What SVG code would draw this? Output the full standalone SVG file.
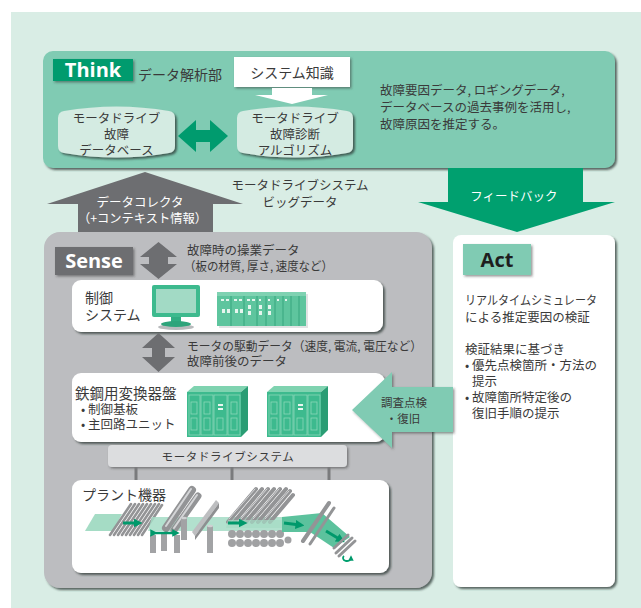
<svg xmlns="http://www.w3.org/2000/svg" width="641" height="608" viewBox="0 0 641 608">
  <defs>
    <style>
      text { font-family: "Noto Sans CJK JP", "Noto Sans", sans-serif; fill: #3a3a3a; }
      .t12 { font-size: 12.5px; }
      .t11 { font-size: 11.5px; }
      .t14 { font-size: 14px; }
      .mid { text-anchor: middle; }
      .wt { fill: #ffffff; }
      .tag { font-family: "Open Sans", "Noto Sans", sans-serif; font-weight: bold; font-size: 20px; }
      .rod { stroke: #939496; stroke-linecap: round; fill: none; }
      .rodhi { stroke: #d4d5d7; stroke-linecap: round; fill: none; }
      .cyl { fill: #a2a3a5; }
      .cyltop { fill: #cfd0d2; }
    </style>
    <filter id="sh" x="-10%" y="-10%" width="130%" height="130%">
      <feDropShadow dx="2" dy="2" stdDeviation="1.2" flood-color="#2d3a35" flood-opacity="0.75"/>
    </filter>
    <filter id="shs" x="-10%" y="-10%" width="130%" height="130%">
      <feDropShadow dx="1.5" dy="1.5" stdDeviation="1" flood-color="#333" flood-opacity="0.5"/>
    </filter>
    <marker id="gh" viewBox="0 0 10 10" refX="5" refY="5" markerWidth="3" markerHeight="3" orient="auto">
      <path d="M0,0 L10,5 L0,10 Z" fill="#00996b"/>
    </marker>
  </defs>

  <!-- backdrop -->
  <rect x="0" y="0" width="641" height="608" fill="#ffffff"/>
  <rect x="11" y="12" width="630" height="596" fill="#d9ede5"/>

  <!-- Think: analysis panel -->
  <g id="think">
    <rect x="43" y="51" width="572" height="117" rx="10" fill="#80cbb3" filter="url(#sh)"/>
    <rect x="53" y="59" width="80" height="22" fill="#009b6e" filter="url(#shs)"/>
    <text x="93" y="77" class="tag wt mid">Think</text>
    <text x="138" y="80" class="t14">データ解析部</text>
    <text x="380" y="95" class="t12">故障要因データ, ロギングデータ,<tspan x="380" dy="17">データベースの過去事例を活用し,</tspan><tspan x="380" dy="17">故障原因を推定する。</tspan></text>
  </g>

  <g id="system-knowledge">
    <rect x="234" y="57" width="116" height="30" fill="#ffffff" filter="url(#shs)"/>
    <text x="292" y="78" class="t14 mid">システム知識</text>
  </g>

  <g id="fault-db">
    <path d="M58,118 Q58,112 64,111 Q116.5,102 169,111 Q175,112 175,118 L175,146 Q175,152 169,153 Q116.5,162 64,153 Q58,152 58,146 Z" fill="#d4ebe2" filter="url(#sh)"/>
    <text x="116.5" y="123" class="t12 mid">モータドライブ<tspan x="116.5" dy="16">故障</tspan><tspan x="116.5" dy="16">データベース</tspan></text>
  </g>

  <g id="diag-algo">
    <path d="M237,118 Q237,112 243,111 Q295,102 347,111 Q353,112 353,118 L353,146 Q353,152 347,153 Q295,162 243,153 Q237,152 237,146 Z" fill="#d4ebe2" filter="url(#sh)"/>
    <text x="295" y="123" class="t12 mid">モータドライブ<tspan x="295" dy="16">故障診断</tspan><tspan x="295" dy="16">アルゴリズム</tspan></text>
  </g>

  <!-- Act panel -->
  <g id="act">
    <rect x="453" y="235" width="162" height="352" rx="8" fill="#ffffff" filter="url(#sh)"/>
    <rect x="463" y="244" width="68" height="31" fill="#80cbb3" filter="url(#shs)"/>
    <text x="497" y="267" class="tag mid" style="fill:#1e1e1e">Act</text>
    <text x="465" y="305" class="t12" textLength="132" lengthAdjust="spacingAndGlyphs">リアルタイムシミュレータ</text>
    <text x="465" y="322" class="t12">による推定要因の検証</text>
    <text x="465" y="354" class="t12">検証結果に基づき<tspan x="465" dy="16">•</tspan><tspan x="472">優先点検箇所・方法の</tspan><tspan x="472" dy="16">提示</tspan><tspan x="465" dy="16">•</tspan><tspan x="472">故障箇所特定後の</tspan><tspan x="472" dy="16">復旧手順の提示</tspan></text>
  </g>

  <!-- Sense panel -->
  <g id="sense">
    <rect x="44" y="232" width="388" height="356" rx="16" fill="#bcbdc0" filter="url(#sh)"/>
    <rect x="55" y="247" width="78" height="28" fill="#6d6e71" filter="url(#shs)"/>
    <text x="94" y="268" class="tag wt mid">Sense</text>
    <text x="187" y="255" class="t12">故障時の操業データ</text>
    <text x="184" y="271" class="t12" textLength="149" lengthAdjust="spacingAndGlyphs">（板の材質, 厚さ, 速度など）</text>
    <text x="187" y="351" class="t12" textLength="235" lengthAdjust="spacingAndGlyphs">モータの駆動データ（速度, 電流, 電圧など）</text>
    <text x="187" y="366" class="t12">故障前後のデータ</text>
  </g>

  <!-- control system -->
  <g id="control">
    <rect x="72" y="280" width="311" height="52" rx="9" fill="#ffffff" filter="url(#sh)"/>
    <text x="85" y="303" class="t14">制御<tspan x="85" dy="17">システム</tspan></text>
    <!-- monitor -->
    <ellipse cx="176" cy="327" rx="18" ry="3" fill="#b9bbbd"/>
    <rect x="152" y="285" width="48" height="32" rx="2" fill="#3dba8e"/>
    <rect x="156" y="289" width="40" height="24" fill="#a2dac5"/>
    <rect x="171" y="317" width="10" height="6" fill="#31ad82"/>
    <ellipse cx="176" cy="324" rx="15" ry="3" fill="#2ea47b"/>
    <!-- controller rack -->
    <rect x="219" y="294" width="89" height="34" fill="#cfd0d2" opacity="0.6"/>
    <rect x="217" y="292" width="89" height="34" fill="#5ec59e"/>
    <rect x="217" y="292" width="89" height="4" fill="#7fd2b2"/>
    <g stroke="#2f9e77" stroke-width="0.8">
      <line x1="231" y1="296" x2="231" y2="326"/>
      <line x1="244" y1="296" x2="244" y2="326"/>
      <line x1="257" y1="296" x2="257" y2="326"/>
      <line x1="266" y1="296" x2="266" y2="326"/>
      <line x1="275" y1="296" x2="275" y2="326"/>
      <line x1="283" y1="296" x2="283" y2="326"/>
      <line x1="291" y1="296" x2="291" y2="326"/>
      <line x1="299" y1="296" x2="299" y2="326"/>
    </g>
    <g fill="#e6f5ee">
      <rect x="221" y="299" width="3" height="2"/><rect x="226" y="299" width="3" height="2"/>
      <rect x="234" y="299" width="3" height="2"/><rect x="239" y="299" width="3" height="2"/>
      <rect x="247" y="299" width="3" height="2"/><rect x="252" y="299" width="3" height="2"/>
      <rect x="259" y="299" width="2" height="2"/><rect x="268" y="299" width="2" height="2"/>
      <rect x="277" y="299" width="2" height="2"/><rect x="285" y="299" width="2" height="2"/>
      <rect x="222" y="309" width="3" height="4"/><rect x="227" y="309" width="3" height="4"/>
      <rect x="235" y="309" width="3" height="4"/><rect x="240" y="309" width="3" height="4"/>
      <rect x="248" y="305" width="3" height="4"/><rect x="248" y="311" width="3" height="4"/>
      <rect x="259" y="305" width="3" height="4"/><rect x="268" y="305" width="3" height="4"/>
      <rect x="259" y="311" width="3" height="4"/><rect x="268" y="311" width="3" height="4"/>
    </g>
  </g>

  <!-- converter cabinets -->
  <g id="converter">
    <rect x="72" y="373" width="313" height="69" rx="9" fill="#ffffff" filter="url(#sh)"/>
    <text x="75" y="399" class="t14" style="font-size:14.5px">鉄鋼用変換器盤</text>
    <text x="81" y="414" class="t12">•<tspan x="88">制御基板</tspan><tspan x="81" dy="15">•</tspan><tspan x="88">主回路ユニット</tspan></text>
    <g id="cabinet-1">
      <polygon points="187,392 194,386 248,386 241,392" fill="#7fd3b0"/>
      <polygon points="241,392 248,386 248,430 241,437" fill="#2a9d74"/>
      <rect x="187" y="392" width="54" height="45" fill="#3dba8e"/>
      <g fill="none" stroke="#8ad8b8" stroke-width="0.8">
        <rect x="189" y="395" width="11" height="40"/><rect x="201" y="395" width="12" height="40"/>
        <rect x="214" y="395" width="13" height="40"/><rect x="228" y="395" width="12" height="40"/>
        <rect x="191" y="402" width="6" height="12"/><rect x="191" y="418" width="6" height="12"/>
        <rect x="204" y="402" width="6" height="12"/><rect x="204" y="418" width="6" height="12"/>
        <rect x="231" y="402" width="6" height="12"/><rect x="231" y="418" width="6" height="12"/>
        <rect x="217" y="418" width="6" height="12"/>
      </g>
      <rect x="218" y="404" width="5" height="2" fill="#e9f6f0"/><rect x="218" y="408" width="5" height="2" fill="#e9f6f0"/>
    </g>
    <g id="cabinet-2">
      <polygon points="267,392 274,386 328,386 321,392" fill="#7fd3b0"/>
      <polygon points="321,392 328,386 328,430 321,437" fill="#2a9d74"/>
      <rect x="267" y="392" width="54" height="45" fill="#3dba8e"/>
      <g fill="none" stroke="#8ad8b8" stroke-width="0.8">
        <rect x="269" y="395" width="11" height="40"/><rect x="281" y="395" width="12" height="40"/>
        <rect x="294" y="395" width="13" height="40"/><rect x="308" y="395" width="12" height="40"/>
        <rect x="271" y="402" width="6" height="12"/><rect x="271" y="418" width="6" height="12"/>
        <rect x="284" y="402" width="6" height="12"/><rect x="284" y="418" width="6" height="12"/>
        <rect x="311" y="402" width="6" height="12"/><rect x="311" y="418" width="6" height="12"/>
        <rect x="297" y="418" width="6" height="12"/>
      </g>
      <rect x="298" y="404" width="5" height="2" fill="#e9f6f0"/><rect x="298" y="408" width="5" height="2" fill="#e9f6f0"/>
    </g>
  </g>

  <!-- motor drive bus -->
  <g id="drive-bus">
    <rect x="108" y="445" width="239" height="22" rx="4" fill="#dcdddf" filter="url(#shs)"/>
    <text x="228" y="461" class="t11 mid" style="letter-spacing:0.6px">モータドライブシステム</text>
  </g>

  <!-- plant equipment -->
  <g id="plant">
    <rect x="72" y="480" width="317" height="93" rx="9" fill="#ffffff" filter="url(#sh)"/>
    <text x="82" y="500" class="t14">プラント機器</text>

    <!-- entry sheet -->
    <polygon points="95,514 122,514 113,531 85,531" fill="#a5dcc5"/>
    <!-- roller table 1 -->
    <g class="rod" stroke-width="2.6">
      <line x1="110" y1="535" x2="131" y2="504"/><line x1="114" y1="535" x2="135" y2="504"/>
      <line x1="118" y1="535" x2="139" y2="504"/><line x1="122" y1="535" x2="143" y2="504"/>
      <line x1="126" y1="535" x2="147" y2="504"/><line x1="130" y1="535" x2="151" y2="504"/>
      <line x1="134" y1="535" x2="155" y2="504"/><line x1="138" y1="535" x2="159" y2="504"/>
      <line x1="142" y1="535" x2="162" y2="505"/>
    </g>
    <line x1="123" y1="523" x2="138" y2="523" stroke="#00996b" stroke-width="3" marker-end="url(#gh)"/>

    <!-- strip through the mill -->
    <polygon points="152,517 300,517 296,531 148,531" fill="#a5dcc5" opacity="0.85"/>

    <!-- stand 1 -->
    <g>
      <line x1="166" y1="528" x2="192" y2="490" class="rod" stroke-width="8"/>
      <line x1="166" y1="526" x2="191" y2="489" class="rodhi" stroke-width="2"/>
      <line x1="174" y1="530" x2="198" y2="496" class="rod" stroke-width="7"/>
      <line x1="174" y1="528" x2="197" y2="495" class="rodhi" stroke-width="2"/>
      <rect x="150" y="535" width="6" height="18" class="cyl"/>
      <rect x="161" y="533" width="6" height="18" class="cyl"/>
      <rect x="174" y="535" width="6" height="18" class="cyl"/>
      <rect x="181" y="518" width="6" height="22" class="cyl"/>
      <ellipse cx="184" cy="518" rx="3" ry="1.2" class="cyltop"/>
    </g>
    <line x1="154" y1="533" x2="176" y2="533" stroke="#00996b" stroke-width="2.5" marker-start="url(#gh)" marker-end="url(#gh)"/>

    <!-- stand 2 -->
    <polygon points="192,532 216,500 219,503 195,536" fill="#bdbec0"/>
    <polygon points="195,536 219,503 219,508 195,540" fill="#8e8f91"/>
    <rect x="207" y="526" width="6" height="27" class="cyl"/>
    <ellipse cx="210" cy="526" rx="3" ry="1.2" class="cyltop"/>

    <!-- roller stack -->
    <g class="rod" stroke-width="4">
      <line x1="228" y1="522" x2="256" y2="489"/><line x1="234" y1="522" x2="262" y2="489"/>
      <line x1="240" y1="522" x2="268" y2="489"/><line x1="246" y1="522" x2="274" y2="489"/>
      <line x1="252" y1="522" x2="280" y2="489"/><line x1="258" y1="522" x2="286" y2="489"/>
      <line x1="264" y1="522" x2="290" y2="491"/><line x1="270" y1="522" x2="293" y2="495"/>
    </g>
    <g class="rodhi" stroke-width="1">
      <line x1="229" y1="519" x2="255" y2="489"/><line x1="241" y1="519" x2="267" y2="489"/>
      <line x1="253" y1="519" x2="279" y2="489"/><line x1="265" y1="519" x2="289" y2="491"/>
    </g>
    <g fill="#a0a1a3">
      <circle cx="232" cy="534" r="4"/><circle cx="240" cy="534" r="4"/><circle cx="248" cy="534" r="4"/>
      <circle cx="256" cy="534" r="4"/><circle cx="264" cy="534" r="4"/><circle cx="272" cy="534" r="4"/>
      <circle cx="280" cy="534" r="4"/>
      <circle cx="232" cy="543" r="4"/><circle cx="240" cy="543" r="4"/><circle cx="248" cy="543" r="4"/>
      <circle cx="256" cy="543" r="4"/><circle cx="264" cy="543" r="4"/><circle cx="272" cy="543" r="4"/>
      <circle cx="280" cy="543" r="4"/><circle cx="288" cy="540" r="3.5"/>
    </g>
    <polygon points="228,520 298,520 294,528 226,528" fill="#a5dcc5" opacity="0.7"/>
    <line x1="228" y1="523" x2="243" y2="523" stroke="#00996b" stroke-width="3" marker-end="url(#gh)"/>

    <!-- run-out and down coiler -->
    <polygon points="282,517 322,513 350,537 334,548 310,532 282,532" fill="#5cc29d"/>
    <line x1="284" y1="523" x2="300" y2="525" stroke="#00996b" stroke-width="3" marker-end="url(#gh)"/>
    <line x1="303" y1="541" x2="329" y2="503" class="rod" stroke-width="4"/>
    <line x1="310" y1="544" x2="334" y2="508" class="rod" stroke-width="3"/>
    <line x1="326" y1="531" x2="341" y2="540" stroke="#00996b" stroke-width="3" marker-end="url(#gh)"/>
    <g class="rod" stroke-width="3">
      <line x1="336" y1="553" x2="352" y2="538"/><line x1="339" y1="556" x2="355" y2="541"/>
      <line x1="334" y1="548" x2="348" y2="535"/>
    </g>
    <path d="M344,556 A4,3 0 1 0 351,558" fill="none" stroke="#00a06f" stroke-width="1.8" marker-end="url(#gh)"/>
  </g>

  <!-- connectors -->
  <g id="connectors">
    <!-- knowledge feeds the diagnosis -->
    <polygon points="272,88 312,88 312,95 328,95 292,104 255,95 272,95" fill="#ffffff"/>
    <!-- database <-> algorithm -->
    <polygon points="178,136 196,120 196,130 210,130 210,120 228,136 210,152 210,142 196,142 196,152" fill="#009b6e"/>
    <!-- data collector, up to Think -->
    <polygon points="78,232 78,204 47,204 145,172 243,204 213,204 213,232" fill="#6d6e71"/>
    <text x="140" y="207" class="t12 wt mid">データコレクタ</text>
    <text x="142.5" y="223" class="t12 wt mid" textLength="129" lengthAdjust="spacingAndGlyphs">（+コンテキスト情報）</text>
    <text x="300" y="190" class="t12 mid">モータドライブシステム<tspan x="300" dy="17">ビッグデータ</tspan></text>
    <!-- feedback, down to Act -->
    <polygon points="448,168 583,168 583,202 615,202 517,232 418,202 448,202" fill="#00a06f"/>
    <text x="514" y="201" class="t12 wt mid">フィードバック</text>
    <!-- operation data -->
    <polygon points="158.5,242 177,257 168,257 168,264 177,264 158.5,279 140,264 149,264 149,257 140,257" fill="#6d6e71"/>
    <!-- drive data -->
    <polygon points="158.5,333 175,348 165,348 165,357 175,357 158.5,372 142,357 152,357 152,348 142,348" fill="#6d6e71"/>
    <!-- inspection / recovery -->
    <polygon points="453,387 453,432 392,432 392,448 352,410 392,372 392,387" fill="#80cbb3" filter="url(#shs)"/>
    <text x="404" y="407" class="t11 mid">調査点検<tspan x="403" dy="16">・復旧</tspan></text>
    <!-- bus drops -->
    <g stroke="#7a7b7d" stroke-width="3">
      <line x1="136" y1="467" x2="136" y2="480"/>
      <line x1="232" y1="467" x2="232" y2="480"/>
      <line x1="329" y1="467" x2="329" y2="480"/>
    </g>
  </g>
</svg>
